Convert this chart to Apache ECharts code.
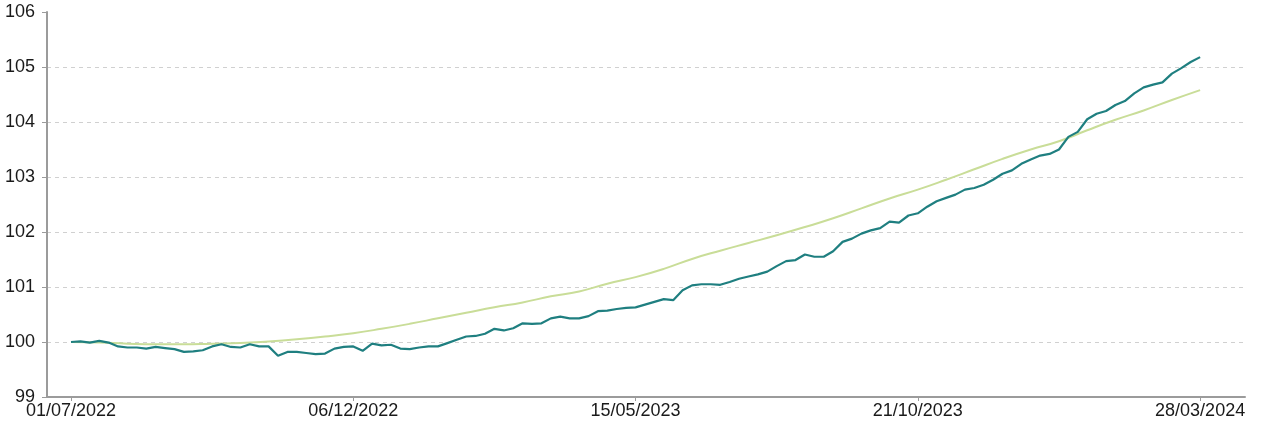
<!DOCTYPE html>
<html>
<head>
<meta charset="utf-8">
<script src="https://cdn.jsdelivr.net/npm/echarts@6/dist/echarts.min.js"></script>
<style>
  html, body { margin: 0; padding: 0; background: #fff; }
  #chart { width: 1263px; height: 427px; }
</style>
</head>
<body>
<div id="chart"></div>
<script>
// tick labels on the x axis, equally spaced
const dateLabels = ["01/07/2022", "06/12/2022", "15/05/2023", "21/10/2023", "28/03/2024"];

// index level (teal), 30 points between two date labels
const indexValues = [
  100.00, 100.01, 99.99, 100.02, 99.99, 99.92, 99.90, 99.90, 99.88, 99.91,
  99.89, 99.87, 99.82, 99.83, 99.85, 99.92, 99.96, 99.91, 99.90, 99.96,
  99.92, 99.92, 99.75, 99.82, 99.82, 99.80, 99.78, 99.79, 99.88, 99.91,
  99.92, 99.84, 99.97, 99.94, 99.95, 99.88, 99.87, 99.90, 99.92, 99.92,
  99.98, 100.04, 100.10, 100.11, 100.15, 100.24, 100.21, 100.25, 100.34, 100.33,
  100.34, 100.43, 100.46, 100.43, 100.43, 100.47, 100.56, 100.57, 100.60, 100.62,
  100.63, 100.68, 100.73, 100.78, 100.76, 100.94, 101.03, 101.05, 101.05, 101.04,
  101.09, 101.15, 101.19, 101.23, 101.28, 101.38, 101.47, 101.49, 101.59, 101.55,
  101.55, 101.65, 101.82, 101.88, 101.97, 102.03, 102.07, 102.19, 102.17, 102.30,
  102.34, 102.46, 102.56, 102.62, 102.68, 102.77, 102.80, 102.86, 102.95, 103.06,
  103.12, 103.24, 103.32, 103.39, 103.42, 103.50, 103.73, 103.82, 104.05, 104.15,
  104.20, 104.31, 104.38, 104.52, 104.63, 104.68, 104.72, 104.88, 104.98, 105.09,
  105.18
];

// reference curve (light green), 10 points between two date labels
const curveValues = [
  100.00, 99.99, 99.97, 99.96, 99.96, 99.97, 99.98, 100.01, 100.05, 100.10,
  100.16, 100.24, 100.33, 100.43, 100.53, 100.63, 100.72, 100.83, 100.92, 101.06,
  101.18, 101.33, 101.51, 101.66, 101.80, 101.94, 102.09, 102.25, 102.43, 102.61,
  102.77, 102.95, 103.14, 103.33, 103.50, 103.65, 103.85, 104.04, 104.21, 104.40,
  104.58
];

const chart = echarts.init(document.getElementById("chart"));

const labelFont = {
  color: "#1a1a1a",
  fontSize: 18,
  fontFamily: "Liberation Sans, Arial, sans-serif",
};
const axisGrey = "#9b9b9b";

chart.setOption({
  animation: false,
  grid: { left: 47, right: 18, top: 12, bottom: 30, containLabel: false },
  xAxis: {
    type: "value",
    min: -0.085,
    max: 4.159,
    splitLine: { show: false },
    axisLine: { onZero: false, lineStyle: { color: axisGrey, width: 2 } },
    axisTick: {
      show: true,
      customValues: [0, 1, 2, 3, 4],
      length: 4,
      lineStyle: { color: axisGrey, width: 1 },
    },
    axisLabel: Object.assign({}, labelFont, {
      customValues: [0, 1, 2, 3, 4],
      margin: 5,
      formatter: (v) => dateLabels[Math.round(v)],
    }),
  },
  yAxis: {
    type: "value",
    min: 99,
    max: 106,
    interval: 1,
    axisLine: { show: true, onZero: false, lineStyle: { color: axisGrey, width: 2 } },
    axisTick: { show: true, length: 5, lineStyle: { color: axisGrey, width: 1 } },
    axisLabel: Object.assign({}, labelFont, { margin: 12 }),
    splitLine: {
      show: true,
      showMinLine: false,
      showMaxLine: false,
      lineStyle: { color: "#d0d0d0", type: [4, 4], width: 1 },
    },
  },
  series: [
    {
      name: "curve",
      type: "line",
      smooth: true,
      showSymbol: false,
      lineStyle: { color: "#c9dd98", width: 2 },
      data: curveValues.map((v, j) => [j / 10, v]),
    },
    {
      name: "index",
      type: "line",
      showSymbol: false,
      lineStyle: { color: "#1f7f80", width: 2.2 },
      data: indexValues.map((v, i) => [i / 30, v]),
    },
  ],
});
</script>
</body>
</html>
